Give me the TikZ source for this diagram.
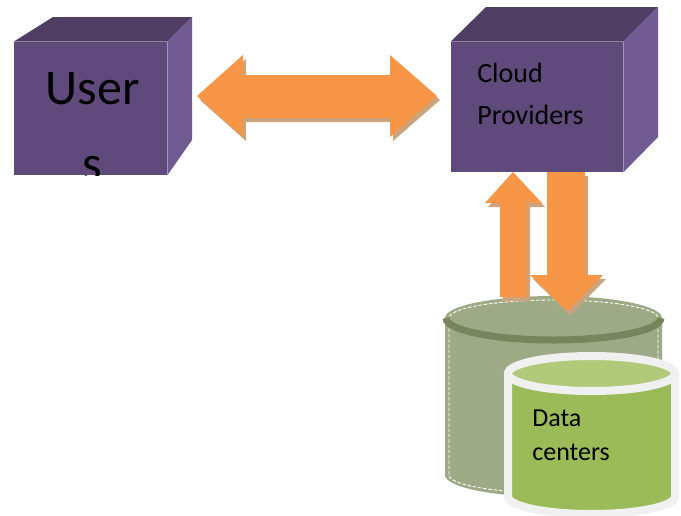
\documentclass[tikz,border=0pt]{standalone}
\usepackage{fontspec}
\setmainfont{Carlito}

\definecolor{cubefront}{RGB}{96,74,123}
\definecolor{cubetop}{RGB}{79,61,99}
\definecolor{cubeside}{RGB}{112,90,145}
\definecolor{arroworange}{RGB}{247,150,70}
\definecolor{arrowshadow}{RGB}{203,163,124}
\definecolor{dbback}{RGB}{158,170,134}
\definecolor{dbrim}{RGB}{118,133,92}
\definecolor{dbfront}{RGB}{155,187,89}
\definecolor{dbtop}{RGB}{176,202,122}
\definecolor{dbedge}{RGB}{240,240,240}

\begin{document}
\begin{tikzpicture}[x=0.02cm, y=-0.02cm,
	frontface/.style={fill=cubefront, inner sep=0pt, minimum width=#1},
	blockarrow/.style={fill=arroworange},
	arrowshade/.style={fill=arrowshadow},
	label/.style={inner sep=0pt, align=left, text=black}]
	\useasboundingbox (0,0) rectangle (681,515);
	
	% Cube - Users
	\node[frontface=3.06cm, minimum height=2.66cm] (users) at (90.5,108.5) {};
	\fill[cubetop] (users.north west) -- (53,17) -- (192,17) -- (users.north east) -- cycle;
	\fill[cubeside] (users.north east) -- (192,17) -- (192,140) -- (users.south east) -- cycle;
	\begin{scope}
		\clip (users.south west) rectangle (users.north east);
		\node[label, align=center, anchor=base, font=\fontsize{28.4}{42.7}\selectfont] (userstext) at (92.5,180) {User\\s};
	\end{scope}
	
	% Cube - Cloud Providers
	\node[frontface=3.44cm, minimum height=2.6cm] (cloud) at (537,107) {};
	\fill[cubetop] (cloud.north west) -- (486,7) -- (658,7) -- (cloud.north east) -- cycle;
	\fill[cubeside] (cloud.north east) -- (658,7) -- (658,137) -- (cloud.south east) -- cycle;
	\node[label, anchor=base west, font=\fontsize{15.9}{23.9}\selectfont] (cloudtext) at (477,124) {Cloud\\Providers};
	
	% Cylinder - back
	\fill[dbback] (445,318) -- (445,475) arc[start angle=180, end angle=0, x radius=108.5, y radius=22]
		-- (662,318) arc[start angle=0, end angle=-180, x radius=108.5, y radius=22] -- cycle;
	\draw[white, line width=0.5pt, dash pattern=on 2pt off 1pt] (449,318) -- (449,475)
		arc[start angle=180, end angle=0, x radius=104.5, y radius=18] -- (658,318)
		arc[start angle=0, end angle=-180, x radius=104.5, y radius=18];
	\draw[dbrim, line width=7*0.02cm] (446,318) arc[start angle=180, end angle=0, x radius=107.5, y radius=22];
	
	% Arrows
	\fill[arrowshade] (200,100) -- (246,59) -- (246,79) -- (393,79) -- (393,59) -- (440,100)
		-- (393,141) -- (393,122) -- (246,122) -- (246,141) -- cycle;
	\fill[blockarrow] (197,96) -- (243,55) -- (243,75) -- (390,75) -- (390,55) -- (437,96)
		-- (390,137) -- (390,118) -- (243,118) -- (243,137) -- cycle;
	
	\fill[arrowshade] (516,176) -- (545,207) -- (530,207) -- (530,301) -- (503,301) -- (503,207) -- (488,207) -- cycle;
	\fill[blockarrow] (513,172) -- (542,203) -- (527,203) -- (527,297) -- (500,297) -- (500,203) -- (485,203) -- cycle;
	
	\fill[arrowshade] (550,176) -- (588,176) -- (588,279) -- (606,279) -- (570,315) -- (533,279) -- (550,279) -- cycle;
	\fill[blockarrow] (547,172) -- (585,172) -- (585,275) -- (603,275) -- (567,311) -- (530,275) -- (547,275) -- cycle;
	
	% Cylinder - Data centers
	\filldraw[fill=dbfront, draw=dbedge, line width=8*0.02cm, line join=round] (508,373.5) -- (508,496.5)
		arc[start angle=180, end angle=0, x radius=83.5, y radius=17.5] -- (675,373.5) -- cycle;
	\filldraw[fill=dbtop, draw=dbedge, line width=8*0.02cm] (591.5,373.5) ellipse[x radius=83.5, y radius=17.5];
	\node[label, anchor=base west, font=\fontsize{14.8}{19.3}\selectfont] (dctext) at (532,460) {Data\\centers};
\end{tikzpicture}
\end{document}
